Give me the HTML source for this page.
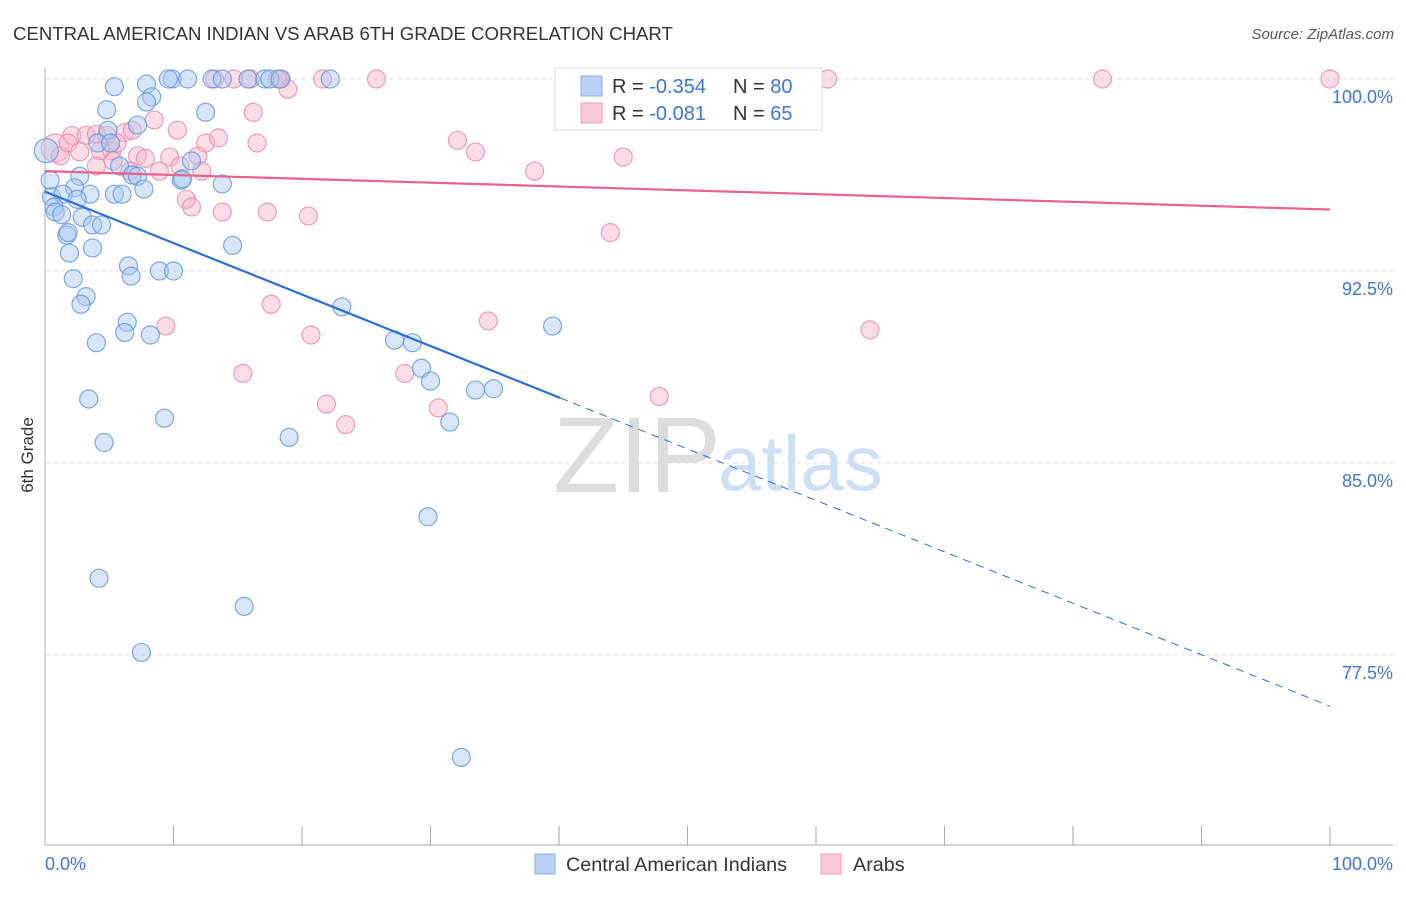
<!DOCTYPE html>
<html><head><meta charset="utf-8"><style>
body{margin:0;background:#fff;font-family:"Liberation Sans",sans-serif;}
svg text{font-family:"Liberation Sans",sans-serif;}
</style></head><body>
<svg id="chart" width="1406" height="892" xmlns="http://www.w3.org/2000/svg">
<text x="13" y="40" font-size="18.6" fill="#333">CENTRAL AMERICAN INDIAN VS ARAB 6TH GRADE CORRELATION CHART</text>
<text x="1394" y="39" font-size="15" fill="#555" font-style="italic" text-anchor="end">Source: ZipAtlas.com</text>
<text x="33" y="455" font-size="17" fill="#333" text-anchor="middle" transform="rotate(-90 33 455)">6th Grade</text>
<g>
<text x="553" y="492" font-size="108" fill="#ddd" font-family="Liberation Serif">ZIP</text>
<text x="718" y="490" font-size="78" fill="#cfe0f4">atlas</text>
</g>
<g id="grid"></g>
<g id="axes"></g>
<g id="marks"></g>
<g>
<rect x="555" y="68" width="267" height="62" fill="#fff" stroke="#ddd"/>
<rect x="581" y="76" width="21" height="20" fill="#b8d2f5" stroke="#8ab2ea"/>
<rect x="581" y="103" width="21" height="20" fill="#f9c6d5" stroke="#f0a0b8"/>
<text x="612" y="93" font-size="20" fill="#333">R = <tspan fill="#3f76d6">-0.354</tspan></text>
<text x="733" y="93" font-size="20" fill="#333">N = <tspan fill="#3f76d6">80</tspan></text>
<text x="612" y="120" font-size="20" fill="#333">R = <tspan fill="#3f76d6"> -0.081</tspan></text>
<text x="733" y="120" font-size="20" fill="#333">N = <tspan fill="#3f76d6">65</tspan></text>
</g>
<g>
<rect x="535" y="854" width="20" height="20" fill="#b8d2f5" stroke="#8ab2ea"/>
<text x="566" y="871" font-size="19.8" fill="#333">Central American Indians</text>
<rect x="821" y="854" width="20" height="20" fill="#f9c6d5" stroke="#f0a0b8"/>
<text x="853" y="871" font-size="19.8" fill="#333">Arabs</text>
</g>
</svg>
<script>
const yTicks=[100,92.5,85,77.5];
const yTickLabels=["100.0%","92.5%","85.0%","77.5%"];
const xTickVals=[0,10,20,30,40,50,60,70,80,90,100];
const blueX=[5.4,7.9,9.9,11.1,13.0,13.8,15.8,17.1,17.5,18.3,22.2,9.6,8.3,7.9,4.8,12.5,7.2,4.9,4.1,5.1,5.8,6.8,7.2,10.6,10.7,13.8,11.4,0.4,2.7,0.5,2.3,3.5,1.4,2.5,5.4,6.0,7.7,0.7,0.8,1.3,2.9,3.7,4.4,1.7,1.8,3.7,1.9,14.6,6.5,6.7,8.9,10.0,2.2,3.2,2.8,6.4,6.2,8.2,4.0,23.1,39.5,27.2,28.6,29.3,30.0,33.5,34.9,31.5,3.4,9.3,4.6,19.0,29.8,4.2,15.5,7.5,32.4,0.1];
const blueY=[99.7,99.8,100,100,100,100,100,100,100,100,100,100,99.3,99.1,98.8,98.7,98.2,98.0,97.5,97.5,96.6,96.25,96.2,96.05,96.1,95.9,96.8,96.05,96.2,95.4,95.75,95.5,95.5,95.3,95.5,95.5,95.7,95.0,94.8,94.7,94.6,94.3,94.3,93.9,94.0,93.4,93.2,93.5,92.7,92.3,92.5,92.5,92.2,91.5,91.2,90.5,90.1,90.0,89.7,91.1,90.35,89.8,89.7,88.7,88.2,87.85,87.9,86.6,87.5,86.75,85.8,86.0,82.9,80.5,79.4,77.6,73.5,97.2];
const pinkX=[0.8,1.2,2.1,3.2,4.0,4.8,6.2,6.8,1.8,2.7,4.3,5.2,5.6,7.2,7.8,9.7,11.9,10.3,12.5,13.5,16.5,8.5,16.2,14.7,16.0,18.4,18.9,21.6,25.8,47.1,60.9,82.3,100,4.0,5.3,8.9,10.5,12.2,11.0,11.4,13.8,17.3,20.5,32.1,33.5,38.1,45.0,44.0,17.6,20.7,9.4,34.5,64.2,15.4,28.0,21.9,23.4,30.6,47.8,13.2,18.1,6.6];
const pinkY=[97.3,97.0,97.8,97.8,97.85,97.8,97.9,98.0,97.5,97.15,97.2,97.2,97.5,97.0,96.9,96.95,97.0,98.0,97.5,97.7,97.5,98.4,98.7,100,100,100,99.6,100,100,100,100,100,100,96.6,96.8,96.4,96.6,96.4,95.3,95.0,94.8,94.8,94.65,97.6,97.15,96.4,96.95,94.0,91.2,90.0,90.35,90.55,90.2,88.5,88.5,87.3,86.5,87.15,87.6,100,100,96.4];
const blueTrend=[95.6,75.5];
const blueSolidEnd=40.1;
const pinkTrend=[96.4,94.9];

const NS="http://www.w3.org/2000/svg";
const X0=45,X1=1330,YTOP=79,PXPER=25.6;
function sx(v){return X0+(X1-X0)*v/100;}
function sy(v){return YTOP+(100-v)*PXPER;}
function mk(tag,attrs,parent){const e=document.createElementNS(NS,tag);for(const k in attrs)e.setAttribute(k,attrs[k]);parent.appendChild(e);return e;}
const grid=document.getElementById('grid'),axes=document.getElementById('axes'),marks=document.getElementById('marks');
yTicks.forEach((t,i)=>{
 const l=mk('line',{x1:45,x2:1393,y1:sy(t),y2:sy(t),stroke:'#ddd','stroke-dasharray':'4,4'},grid);
 
 
 const tx=mk('text',{x:1393,y:sy(t)+24,'font-size':18,fill:'#3f76d6','text-anchor':'end'},grid);
 tx.textContent=yTickLabels[i];
 
 
});
let a=mk('line',{x1:45,x2:45,y1:68,y2:845,stroke:'#aaa'},axes);


a=mk('line',{x1:45,x2:1393,y1:845,y2:845,stroke:'#aaa'},axes);


xTickVals.forEach(v=>{
 const t=mk('line',{x1:sx(v),x2:sx(v),y1:826,y2:845,stroke:'#aaa'},axes);
 
 
});
let t1=mk('text',{x:45,y:870,'font-size':18,fill:'#3f76d6'},axes);t1.textContent='0.0%';


t1=mk('text',{x:1393,y:870,'font-size':18,fill:'#3f76d6','text-anchor':'end'},axes);t1.textContent='100.0%';


function dots(xs,ys,fill,stroke,name,bigIdx,bigR){
 xs.forEach((x,i)=>{
  const c=mk('circle',{cx:sx(x),cy:sy(ys[i]),r:i===bigIdx?bigR:9,fill:fill,'fill-opacity':0.45,stroke:stroke,'stroke-opacity':0.8,'stroke-width':1.2},marks);
  
  
 });
}
dots(pinkX,pinkY,'#f7b4c8','#e98aa8','arab-point',0,14);
dots(blueX,blueY,'#a8c8f0','#5f95de','central-american-indian-point',blueX.length-1,12);
function ty(tr,x){return tr[0]+(tr[1]-tr[0])*x/100;}
let ln=mk('line',{x1:sx(0),y1:sy(ty(blueTrend,0)),x2:sx(blueSolidEnd),y2:sy(ty(blueTrend,blueSolidEnd)),stroke:'#2c6fd6','stroke-width':2.2},marks);


ln=mk('line',{x1:sx(blueSolidEnd),y1:sy(ty(blueTrend,blueSolidEnd)),x2:sx(100),y2:sy(ty(blueTrend,100)),stroke:'#2c6fd6','stroke-width':1,'stroke-dasharray':'8,6'},marks);


ln=mk('line',{x1:sx(0),y1:sy(ty(pinkTrend,0)),x2:sx(100),y2:sy(ty(pinkTrend,100)),stroke:'#e8628d','stroke-width':2.2},marks);


</script>
</body></html>
